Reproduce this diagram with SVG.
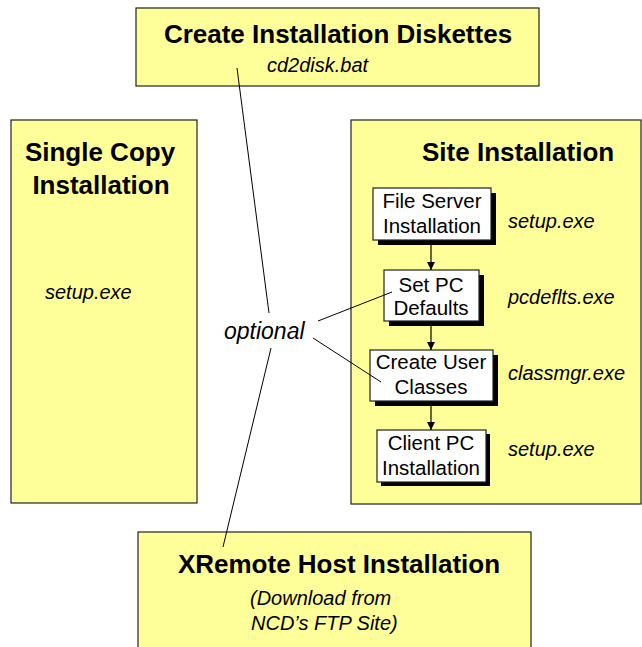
<svg xmlns="http://www.w3.org/2000/svg" width="642" height="647" viewBox="0 0 642 647">
  <style>
    .panel { fill: #FFFF99; stroke: #222; stroke-width: 1.2; }
    .step { fill: #fff; stroke: #222; stroke-width: 1.2; }
    .shadow { fill: #000; }
    .title { font-family: "Liberation Sans", Arial, sans-serif; font-weight: bold; font-size: 26px; fill: #000; }
    .prog { font-family: "Liberation Sans", Arial, sans-serif; font-style: italic; font-size: 20px; fill: #000; }
    .stepText { font-family: "Liberation Sans", Arial, sans-serif; font-size: 20.5px; fill: #000; text-anchor: middle; }
    .link { stroke: #000; stroke-width: 1; fill: none; }
    .flow { stroke: #000; stroke-width: 1.2; fill: none; marker-end: url(#head); }
  </style>
  <defs>
    <marker id="head" viewBox="0 0 10 10" refX="10" refY="5" markerWidth="8" markerHeight="8" markerUnits="userSpaceOnUse" orient="auto">
      <path d="M0,0 L10,5 L0,10 Z" fill="#000"/>
    </marker>
  </defs>

  <rect width="642" height="647" fill="#fff"/>

  <!-- Create Installation Diskettes -->
  <g id="diskettes">
    <rect class="panel" x="136" y="8" width="403" height="78"/>
    <text class="title" x="338" y="43" text-anchor="middle">Create Installation Diskettes</text>
    <text class="prog" x="267" y="72">cd2disk.bat</text>
  </g>

  <!-- Single Copy Installation -->
  <g id="single-copy">
    <rect class="panel" x="11" y="120" width="186" height="383"/>
    <text class="title" x="100" y="161" text-anchor="middle">Single Copy</text>
    <text class="title" x="101" y="194" text-anchor="middle">Installation</text>
    <text class="prog" x="45" y="299">setup.exe</text>
  </g>

  <!-- Site Installation -->
  <g id="site">
    <rect class="panel" x="351" y="120" width="290" height="384"/>
    <text class="title" x="422" y="161">Site Installation</text>
    <text class="prog" x="508" y="228">setup.exe</text>
    <text class="prog" x="508" y="304">pcdeflts.exe</text>
    <text class="prog" x="508" y="380">classmgr.exe</text>
    <text class="prog" x="508" y="456">setup.exe</text>
  </g>

  <g id="file-server">
    <rect class="shadow" x="378" y="193" width="118" height="52"/>
    <rect class="step" x="373" y="188" width="118" height="52"/>
    <text class="stepText" x="432" y="208">File Server</text>
    <text class="stepText" x="432" y="233">Installation</text>
  </g>

  <g id="pc-defaults">
    <rect class="shadow" x="389" y="275" width="95" height="51"/>
    <rect class="step" x="384" y="270" width="95" height="51"/>
    <text class="stepText" x="431" y="292">Set PC</text>
    <text class="stepText" x="431" y="315">Defaults</text>
  </g>

  <g id="user-classes">
    <rect class="shadow" x="375" y="355" width="123" height="51"/>
    <rect class="step" x="370" y="350" width="123" height="51"/>
    <text class="stepText" x="431" y="369">Create User</text>
    <text class="stepText" x="431" y="394">Classes</text>
  </g>

  <g id="client-pc">
    <rect class="shadow" x="381" y="434" width="109" height="52"/>
    <rect class="step" x="377" y="430" width="109" height="52"/>
    <text class="stepText" x="431" y="450">Client PC</text>
    <text class="stepText" x="431" y="475">Installation</text>
  </g>

  <!-- XRemote Host Installation -->
  <g id="xremote">
    <rect class="panel" x="138" y="532" width="393" height="130"/>
    <text class="title" x="339" y="573" text-anchor="middle">XRemote Host Installation</text>
    <text class="prog" x="250" y="605">(Download from</text>
    <text class="prog" x="251" y="630">NCD’s FTP Site)</text>
  </g>

  <!-- optional label -->
  <g id="optional">
    <text class="prog" x="224" y="339" style="font-size:23px">optional</text>
  </g>

  <!-- connectors -->
  <g id="connectors">
    <line class="flow" x1="431" y1="240" x2="431" y2="270"/>
    <line class="flow" x1="431" y1="321" x2="431" y2="350"/>
    <line class="flow" x1="431" y1="401" x2="431" y2="430"/>
    <line class="link" x1="237" y1="68" x2="269" y2="313"/>
    <line class="link" x1="271" y1="348" x2="223" y2="547"/>
    <line class="link" x1="318" y1="321" x2="392" y2="292"/>
    <line class="link" x1="313" y1="338" x2="381" y2="382"/>
  </g>
</svg>
